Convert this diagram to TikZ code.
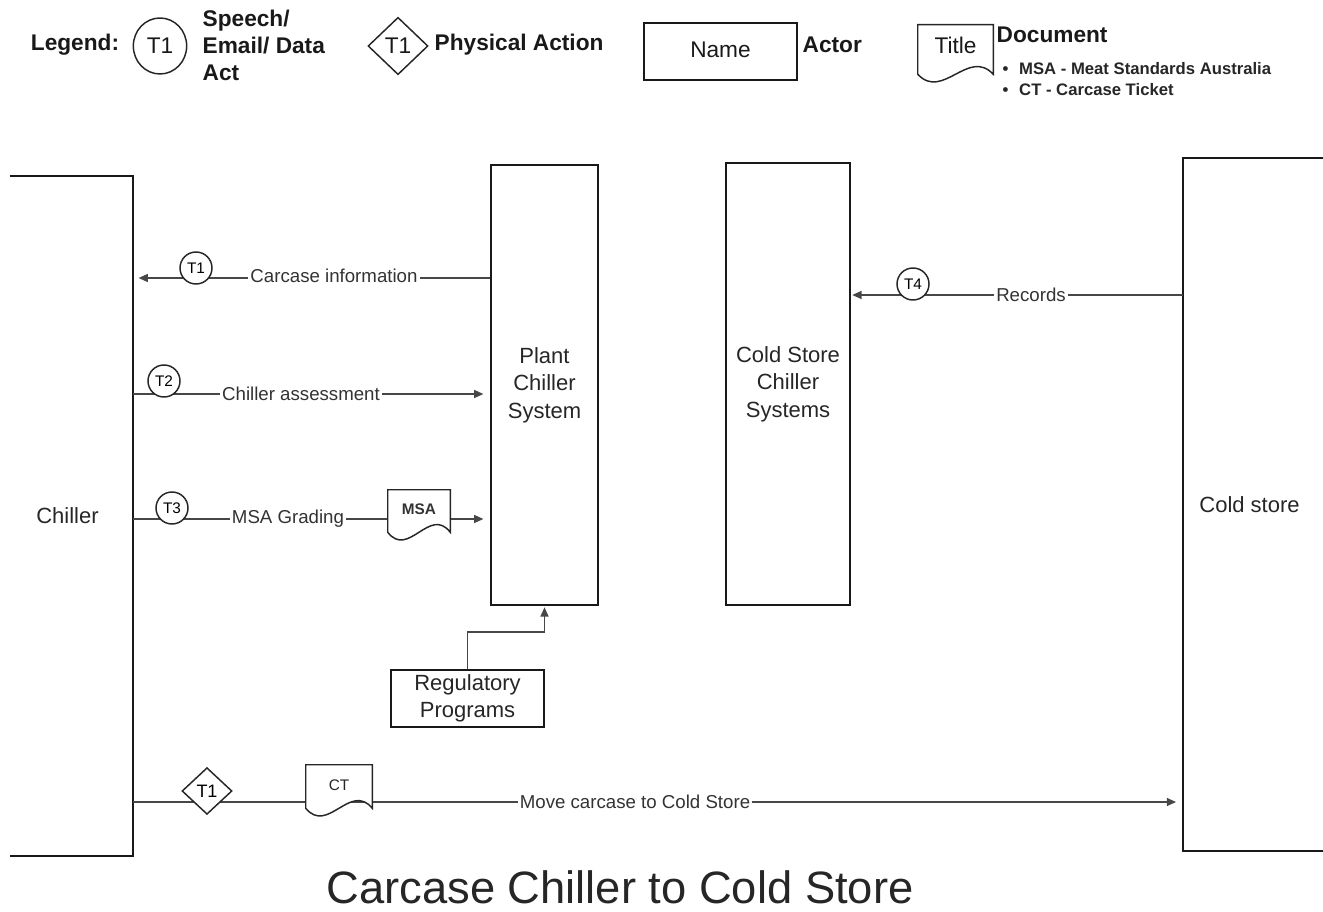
\documentclass[tikz,border=0pt]{standalone}
\usepackage{fontspec}
\setmainfont{Liberation Sans}
\usetikzlibrary{arrows.meta,shapes.geometric,fit,calc}
\newcommand\docwave[1]{%
  \draw[docline] (#1.south west) -- (#1.north west) -- (#1.north east) -- (#1.south east)
   .. controls ($(#1.south east)!0.33!(#1.south west)+(0pt,20pt)$) and ($(#1.south east)!0.67!(#1.south west)+(0pt,-20pt)$) .. (#1.south west);}
\begin{document}
\begin{tikzpicture}[x=0.75pt,y=-0.75pt,
  box/.style={draw=black!90,line width=1.4pt},
  conn/.style={draw=black!72,line width=1.1pt},
  arr/.style={conn,-{Triangle[length=7pt,width=6pt]}},
  docline/.style={draw=black!85,line width=1.1pt,fill=white},
  tcircle/.style={circle,draw=black!85,line width=1.1pt,fill=white,minimum size=24pt,inner sep=0pt,font=\fontsize{11.5}{13}\selectfont},
  lbl/.style={fill=white,inner sep=1.5pt,font=\fontsize{14}{16}\selectfont,text=black!80},
  boxtext/.style={font=\fontsize{16.5}{20.6}\selectfont,align=center,text=black!85},
  fitbox/.style={inner sep=0pt},
  leg/.style={font=\fontsize{17}{20.25}\selectfont\bfseries,text=black!90},
  legreg/.style={font=\fontsize{17}{20.25}\selectfont,text=black!90},
]
\path[use as bounding box] (0,0) rectangle (1323,912);
\clip (0,0) rectangle (1323,912);

% actors
\node[fitbox,fit={(10,176) (133,856)}] (chiller) {};
\draw[box] (chiller.north west) -- (chiller.north east) -- (chiller.south east) -- (chiller.south west);
\node[boxtext] (chillert) at ([xshift=-3pt]chiller.center) {Chiller};
\node[fitbox,box,fit={(491,165) (598,605)}] (plant) {};
\node[boxtext] (plantt) at (plant.center) {Plant\\Chiller\\System};
\node[fitbox,box,fit={(726,163) (850,605)}] (cs) {};
\node[boxtext] (cst) at (cs.center) {Cold Store\\Chiller\\Systems};
\node[fitbox,fit={(1183,158) (1316,851)}] (cold) {};
\draw[box] ([xshift=20pt]cold.north east) -- (cold.north west) -- (cold.south west) -- ([xshift=20pt]cold.south east);
\node[boxtext] (coldt) at (cold.center) {Cold store};
\node[fitbox,box,fit={(391,670) (544,727)}] (reg) {};
\node[boxtext] (regt) at (reg.center) {Regulatory\\Programs};

% levels
\coordinate (yA) at (0,278);
\coordinate (yB) at (0,394);
\coordinate (yC) at (0,519);
\coordinate (yD) at (0,295);
\coordinate (yE) at (0,802);
\coordinate (yR) at (0,632);

% connectors
\draw[arr,shorten >=4pt] (plant.west |- yA) -- (chiller.east |- yA);
\draw[arr,shorten >=5pt] (chiller.east |- yB) -- (plant.west |- yB);
\draw[arr,shorten >=5pt] (chiller.east |- yC) -- (plant.west |- yC);
\draw[arr,shorten >=1pt] (cold.west |- yD) -- (cs.east |- yD);
\draw[arr,shorten >=1pt] (reg.north) -- (reg.north |- yR) -| (plant.south);
\draw[arr,shorten >=5pt] (chiller.east |- yE) -- (cold.west |- yE);

% labels
\node[lbl] (l1) at (334,276) {Carcase information};
\node[lbl] (l2) at (301,394) {Chiller assessment};
\node[lbl] (l3) at (288,519) {MSA Grading};
\node[lbl] (l4) at (1031,295) {Records};
\node[lbl] (l5) at (635,802) {Move carcase to Cold Store};

\node[tcircle] (t1) at (196,268) {T1};
\node[tcircle] (t2) at (164,381) {T2};
\node[tcircle] (t3) at (172,508) {T3};
\node[tcircle] (t4) at (913,284) {T4};

% documents
\node[fitbox,fit={(388,490) (450,532)}] (msadoc) {};
\docwave{msadoc}
\node[font=\fontsize{11.5}{13}\selectfont\bfseries,text=black!80] (msat) at ([yshift=1pt]msadoc.center) {MSA};
\node[fitbox,fit={(306,765) (372,808)}] (ctdoc) {};
\docwave{ctdoc}
\node[font=\fontsize{11.5}{13}\selectfont,text=black!85] (ctt) at ([yshift=1pt]ctdoc.center) {CT};

\node[diamond,aspect=1,draw=black!85,line width=1.1pt,fill=white,inner sep=0pt,minimum width=37.5pt,minimum height=35pt,font=\fontsize{13.5}{15}\selectfont] (d1) at (207,791) {T1};

% legend
\node[leg] (legend) at (75,45) {Legend:};
\node[ellipse,draw=black!85,line width=1.1pt,minimum width=40pt,minimum height=42pt,inner sep=0pt,legreg] (lc) at (160,46) {T1};
\node[leg,anchor=west,align=left] (lspeech) at (198,45) {Speech/\\Email/ Data\\Act};
\node[diamond,aspect=1,draw=black!85,line width=1.1pt,inner sep=0pt,minimum width=45pt,minimum height=43pt,legreg] (ld) at (398,46) {T1};
\node[leg,anchor=west] (lphys) at (430,45) {Physical Action};
\node[fitbox,box,fit={(644,23) (797,80)}] (lname) {};
\node[legreg] (lnamet) at ([yshift=1pt]lname.center) {Name};
\node[leg,anchor=west] (lactor) at (798,45) {Actor};
\node[fitbox,fit={(918,25) (993,74)}] (ltitle) {};
\docwave{ltitle}
\node[legreg] (ltitlet) at ([yshift=3pt]ltitle.center) {Title};
\node[leg,anchor=west] (ldoc) at (992,35) {Document};
\node[anchor=west,align=left,font=\fontsize{12.5}{15.75}\selectfont\bfseries,text=black!85] (lbul) at (998,79.5) {\textbullet\hspace{8pt}MSA - Meat Standards Australia\\\textbullet\hspace{8pt}CT - Carcase Ticket};

% title
\node[font=\fontsize{34}{40}\selectfont,text=black!85] (title) at (620,887) {Carcase Chiller to Cold Store};
\end{tikzpicture}
\end{document}
